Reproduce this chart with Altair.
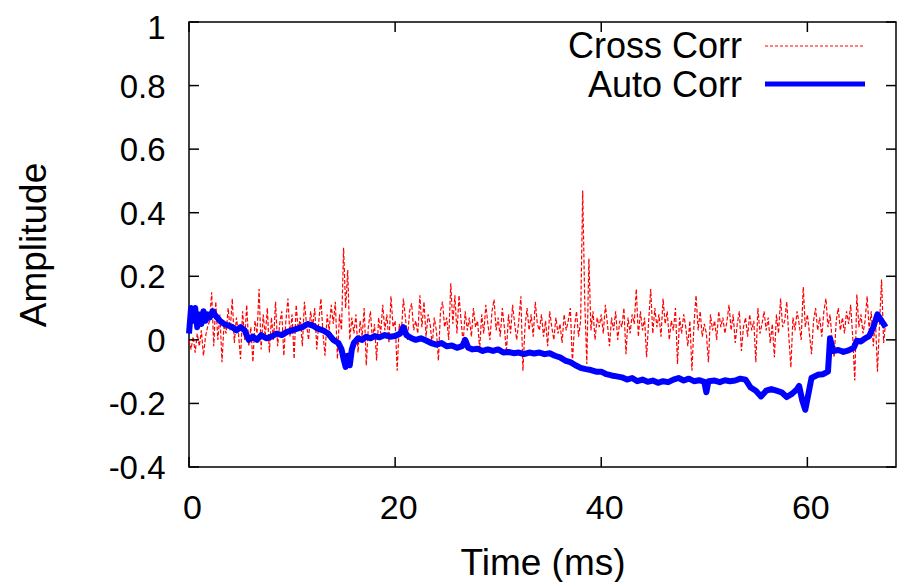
import altair as alt
import pandas as pd

# ---------------- data ----------------
cross_dt = 0.2  # sampling interval (ms) of the cross-correlation trace
cross_corr = [
    0.0, -0.03, 0.01, -0.04, 0.02, -0.02, 0.03, -0.05, 0.01, 0.04,
    0.06, 0.15, -0.02, 0.12, 0.0, 0.08, -0.07, 0.05, 0.02, 0.1,
    0.03, 0.13, -0.01, 0.07, 0.02, -0.06, 0.09, 0.0, 0.11, -0.02,
    0.04, -0.07, 0.06, 0.02, 0.16, -0.03, 0.08, 0.01, 0.1, -0.04,
    0.07, 0.0, 0.12, -0.02, 0.05, 0.09, -0.05, 0.06, 0.13, 0.01,
    0.08, -0.06, 0.11, 0.03, 0.07, -0.02, 0.12, 0.05, 0.0, 0.09,
    0.04, 0.1, -0.03, 0.06, 0.13, 0.02, -0.05, 0.08, 0.03, 0.11,
    0.05, 0.12, -0.06, 0.08, 0.03, 0.29, 0.1, 0.22, 0.0, 0.07,
    0.02, 0.08, -0.04, 0.06, 0.01, 0.1, -0.08, 0.04, 0.09, 0.0,
    0.05, -0.065, 0.07, 0.02, 0.11, 0.03, 0.08, -0.01, 0.137, 0.04,
    0.06, -0.097, 0.05, 0.02, 0.13, 0.07, 0.0, 0.09, 0.115, 0.03,
    0.06, 0.02, 0.14, 0.04, 0.12, 0.01, 0.08, 0.05, -0.02, 0.07,
    0.03, -0.065, 0.09, 0.12, 0.04, 0.07, 0.0, 0.178, 0.05, 0.14,
    0.02, 0.14, 0.06, -0.01, 0.09, 0.03, 0.07, 0.01, 0.1, 0.04,
    0.06, -0.03, 0.08, 0.02, 0.11, 0.05, 0.0, 0.09, 0.127, 0.03,
    0.07, 0.01, 0.1, 0.04, -0.04, 0.08, 0.02, 0.11, 0.05, 0.0,
    0.06, 0.137, -0.097, 0.04, 0.1, 0.03, 0.08, 0.01, 0.12, 0.05,
    0.03, 0.08, 0.01, 0.06, -0.02, 0.09, 0.04, 0.0, 0.07, 0.02,
    0.05, -0.01, 0.08, 0.03, 0.06, 0.1, -0.07, 0.04, 0.09, 0.01,
    0.06, 0.47, 0.12, -0.076, 0.256, 0.03, 0.09, 0.0, 0.07, 0.04,
    0.08, 0.02, 0.11, 0.05, -0.02, 0.07, 0.03, 0.09, 0.0, 0.06,
    0.04, 0.1, -0.045, 0.07, 0.02, 0.08, 0.05, 0.16, 0.01, 0.09,
    0.03, 0.07, -0.055, 0.06, 0.16, 0.02, 0.1, 0.04, 0.08, 0.01,
    0.13, 0.05, 0.09, 0.0, 0.06, 0.03, 0.1, -0.076, 0.07, 0.02,
    0.08, 0.04, -0.02, 0.06, -0.097, 0.05, 0.14, 0.03, 0.09, 0.01,
    0.05, 0.02, -0.07, 0.08, 0.03, 0.06, 0.0, 0.09, 0.04, 0.07,
    0.02, 0.06, 0.11, 0.03, 0.08, -0.01, 0.05, 0.09, -0.035, 0.04,
    0.07, 0.01, 0.08, 0.03, 0.06, -0.07, 0.1, 0.02, 0.05, 0.09,
    0.03, 0.07, -0.01, 0.05, -0.055, 0.08, 0.02, 0.13, 0.04, 0.06,
    0.12, 0.01, -0.087, 0.07, 0.03, 0.09, 0.05, 0.0, 0.166, 0.04,
    0.08, 0.02, -0.045, 0.06, 0.1, 0.03, 0.07, 0.01, 0.09, 0.13,
    0.04, 0.08, 0.0, -0.055, 0.06, 0.1, 0.03, 0.07, 0.02, 0.09,
    0.05, 0.11, 0.01, -0.128, 0.143, 0.04, 0.08, 0.02, 0.06, 0.137,
    0.03, 0.09, -0.02, 0.07, -0.1, 0.05, 0.19, -0.01, 0.06,
]

auto_time = [
    0.0, 0.2, 0.4, 0.6, 0.8, 1.0, 1.2, 1.4, 1.6, 1.8,
    2.0, 2.3, 2.6, 3.0, 3.4, 3.8, 4.2, 4.6, 5.0, 5.4,
    5.8, 6.2, 6.6, 7.0, 7.5, 8.0, 8.5, 9.0, 9.5, 10.0,
    10.5, 11.0, 11.5, 12.0, 12.5, 13.0, 13.5, 14.0, 14.5, 14.8,
    15.0, 15.2, 15.4, 15.6, 15.8, 16.0, 16.4, 16.8, 17.2, 17.6,
    18.0, 18.5, 19.0, 19.5, 20.0, 20.5, 20.8, 21.1, 21.6, 22.0,
    22.5, 23.0, 23.5, 24.0, 24.5, 25.0, 25.5, 26.0, 26.5, 26.8,
    27.1, 27.5, 28.0, 28.5, 29.0, 29.5, 30.0, 30.5, 31.0, 31.5,
    32.0, 32.5, 33.0, 33.5, 34.0, 34.5, 35.0, 35.5, 36.0, 36.5,
    37.0, 37.5, 38.0, 38.5, 39.0, 39.5, 40.0, 40.5, 41.0, 41.5,
    42.0, 42.5, 43.0, 43.5, 44.0, 44.5, 45.0, 45.5, 46.0, 46.5,
    47.0, 47.5, 48.0, 48.5, 49.0, 49.5, 50.0, 50.2, 50.4, 51.0,
    51.5, 52.0, 52.5, 53.0, 53.5, 54.0, 54.5, 55.0, 55.5, 56.0,
    56.5, 57.0, 57.5, 58.0, 58.5, 59.0, 59.2, 59.5, 59.8, 60.1,
    60.4, 61.0, 61.5, 62.0, 62.2, 62.5, 63.0, 63.5, 64.0, 64.5,
    64.8, 65.2, 65.6, 66.0, 66.4, 66.8, 67.2, 67.6,
]
auto_corr = [
    0.02, 0.1, 0.06, 0.1, 0.04, 0.08, 0.05, 0.09, 0.06, 0.08,
    0.07, 0.09, 0.075, 0.06, 0.05, 0.045, 0.04, 0.03, 0.04, 0.03,
    0.0, 0.01, 0.0, 0.015, 0.005, 0.01, 0.02, 0.015, 0.025, 0.03,
    0.035, 0.04, 0.05, 0.045, 0.035, 0.03, 0.02, 0.0, -0.01, -0.03,
    -0.06, -0.085, -0.05, -0.08, -0.03, -0.01, 0.005, 0.0, 0.01, 0.005,
    0.012, 0.008, 0.015, 0.01, 0.012, 0.02, 0.04, 0.015, 0.005, 0.0,
    0.005, -0.002, -0.01, -0.015, -0.01, -0.02, -0.018, -0.025, -0.02, 0.0,
    -0.025, -0.03, -0.028, -0.035, -0.03, -0.035, -0.03, -0.04, -0.038, -0.042,
    -0.04, -0.045, -0.04, -0.043, -0.04, -0.045, -0.042, -0.05, -0.055, -0.065,
    -0.07, -0.08, -0.088, -0.092, -0.095, -0.1, -0.1, -0.108, -0.112, -0.115,
    -0.118, -0.125, -0.12, -0.13, -0.125, -0.132, -0.128, -0.135, -0.13, -0.133,
    -0.125, -0.12, -0.128, -0.122, -0.13, -0.127, -0.132, -0.165, -0.13, -0.128,
    -0.133, -0.127, -0.13, -0.128, -0.122, -0.125, -0.15, -0.16, -0.178, -0.16,
    -0.155, -0.16, -0.165, -0.18, -0.17, -0.155, -0.145, -0.19, -0.22, -0.17,
    -0.12, -0.11, -0.108, -0.1, 0.005, -0.035, -0.032, -0.038, -0.033, -0.025,
    -0.003, -0.005, 0.005, 0.012, 0.04, 0.08, 0.06, 0.04,
]

x_ticks = [0, 20, 40, 60]
y_ticks = [-0.4, -0.2, 0, 0.2, 0.4, 0.6, 0.8, 1]
series_names = ["Cross Corr", "Auto Corr"]
series_colors = ["#ff0000", "#0000ff"]

# ---------------- tables ----------------
cross_df = pd.DataFrame({
    "time": [round(i * cross_dt, 2) for i in range(len(cross_corr))],
    "amp": cross_corr,
})
auto_df = pd.DataFrame({"time": auto_time, "amp": auto_corr})

W, H = 707, 445
FONT = "Liberation Sans"
xscale = alt.Scale(domain=[0, 68.6], nice=False, zero=False)
yscale = alt.Scale(domain=[-0.4, 1], nice=False)

xaxis = alt.Axis(
    values=x_ticks, title="Time (ms)", ticks=False, domain=False, grid=False,
    labelFont=FONT, labelFontSize=34, labelColor="black", labelPadding=24,
    labelFlush=False, labelOffset=3,
    titleFont=FONT, titleFontSize=37, titleFontWeight="normal", titleColor="black",
    titleBaseline="alphabetic", titleY=107,
)
yaxis = alt.Axis(
    values=y_ticks, title="Amplitude", ticks=False, domain=False, grid=False,
    labelExpr="'' + datum.value",
    labelFont=FONT, labelFontSize=33, labelColor="black", labelPadding=24,
    labelFlush=False,
    labelOffset={"condition": {"test": "datum.value === 1", "value": 6}, "value": 1.5},
    titleFont=FONT, titleFontSize=37, titleFontWeight="normal", titleColor="black",
    titleBaseline="alphabetic", titleX=-144, titleY=H / 2,
)

cross_line = alt.Chart(cross_df).mark_line(
    color=series_colors[0], strokeWidth=1.2, strokeDash=[4, 2]
).encode(
    x=alt.X("time:Q", scale=xscale, axis=xaxis),
    y=alt.Y("amp:Q", scale=yscale, axis=yaxis),
)

auto_line = alt.Chart(auto_df).mark_line(
    color=series_colors[1], strokeWidth=6, strokeJoin="round"
).encode(
    x=alt.X("time:Q", scale=xscale, axis=xaxis),
    y=alt.Y("amp:Q", scale=yscale, axis=yaxis),
)

# inward ticks on all four sides (gnuplot style)
xt = pd.DataFrame({"time": x_ticks})
yt = pd.DataFrame({"amp": y_ticks})
TL = 10
tick_style = dict(color="black", strokeWidth=1.5)
bottom_ticks = alt.Chart(xt).mark_rule(**tick_style).encode(
    x=alt.X("time:Q", scale=xscale, axis=xaxis), y=alt.value(H), y2=alt.value(H - TL))
top_ticks = alt.Chart(xt).mark_rule(**tick_style).encode(
    x=alt.X("time:Q", scale=xscale, axis=xaxis), y=alt.value(0), y2=alt.value(TL))
left_ticks = alt.Chart(yt).mark_rule(**tick_style).encode(
    y=alt.Y("amp:Q", scale=yscale, axis=yaxis), x=alt.value(0), x2=alt.value(TL))
right_ticks = alt.Chart(yt).mark_rule(**tick_style).encode(
    y=alt.Y("amp:Q", scale=yscale, axis=yaxis), x=alt.value(W), x2=alt.value(W - TL))

# legend (top-right, label left of sample line)
legend_layers = []
legend_rows = [(36, 24), (75, 62)]
legend_styles = [dict(strokeWidth=1.2, strokeDash=[3, 2]), dict(strokeWidth=5)]
for name, color, (ty, ly), sty in zip(series_names, series_colors, legend_rows, legend_styles):
    ldf = pd.DataFrame({"name": [name]})
    legend_layers.append(
        alt.Chart(ldf).mark_text(
            align="right", baseline="alphabetic", font=FONT, fontSize=36, color="black"
        ).encode(text="name:N", x=alt.value(553), y=alt.value(ty))
    )
    legend_layers.append(
        alt.Chart(ldf).mark_rule(color=color, **sty).encode(
            x=alt.value(576), x2=alt.value(676), y=alt.value(ly))
    )

chart = alt.layer(
    cross_line, auto_line, bottom_ticks, top_ticks, left_ticks, right_ticks, *legend_layers
).properties(
    width=W, height=H,
    padding={"left": 181, "top": 14, "right": 8, "bottom": 115},
    autosize=alt.AutoSizeParams(type="none"),
    background="white",
).configure_view(stroke="black", strokeWidth=1.5)

chart.save("out.html", embed_options={"renderer": "svg", "actions": False})
